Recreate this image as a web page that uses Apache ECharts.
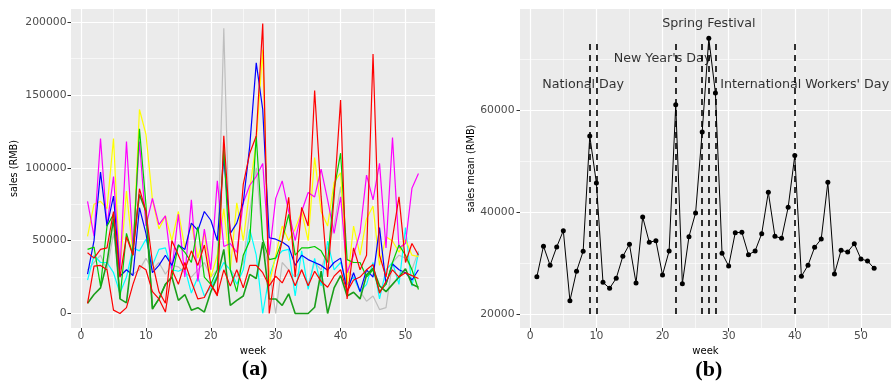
<!DOCTYPE html>
<html><head><meta charset="utf-8">
<script src="https://cdn.jsdelivr.net/npm/echarts@6/dist/echarts.min.js"></script>
<style>html,body{margin:0;padding:0;background:#fff}#c{width:894px;height:381px}</style>
</head><body><div id="c"></div>
<script>
const weeks = [1,2,3,4,5,6,7,8,9,10,11,12,13,14,15,16,17,18,19,20,21,22,23,24,25,26,27,28,29,30,31,32,33,34,35,36,37,38,39,40,41,42,43,44,45,46,47,48,49,50,51,52];

// panel (a): weekly sales per store
const gray = [30000,35000,40000,30000,55000,25000,30000,27000,30000,37800,30000,35000,27000,33000,32000,28000,25000,30000,35000,25000,30000,195700,30000,25000,35000,70000,100000,50000,30000,0,35000,30000,25000,30000,20000,35000,30000,45000,60000,87000,30000,25000,15000,8400,12000,2700,4000,35000,40000,38000,30000,42800];
const cyan = [22900,39800,35000,35000,28000,14000,25000,45000,43000,51000,33000,44000,45000,30000,29000,31000,14000,25000,12000,18000,26000,35000,30000,20000,30000,57700,40000,0,25600,38000,43000,44000,12000,43000,16500,37800,19000,49700,30000,35000,20000,25000,15000,20000,35000,10000,30000,35000,20000,58900,18800,41700];
const yellow = [53000,75000,77000,72000,120000,30000,84000,40000,140000,123000,78000,58000,67000,50000,70000,45000,62000,38000,55000,25000,40000,72000,30000,76000,50000,85000,118000,181000,20000,40000,60000,50000,58000,70000,50000,107000,70000,60000,90000,96600,20000,60000,40000,65000,73700,33000,52700,49700,42000,50800,40000,39000];
const magenta = [77000,53000,120000,60000,94000,30000,118000,45000,118000,60000,79000,61000,67000,30000,68000,25000,78000,22000,58000,30000,91000,46000,48000,42000,76000,88000,94000,103000,40000,79000,91000,70000,50000,70000,83000,80000,99000,78000,55000,80000,28000,40000,55600,95000,78000,103000,45000,120700,45000,48000,86000,96000];
const blue = [27000,50000,97000,60000,80600,25600,30000,26000,72600,55000,28000,33000,40000,33000,47000,44000,62000,57000,70000,64000,50000,107000,55000,62000,76000,115000,172000,140000,52000,51000,49000,46000,33000,40000,37000,35000,33000,29700,35000,38000,15000,28000,15000,30000,25000,58900,20000,34000,30000,28000,23000,30000];
const green = [44000,45500,18700,60000,68000,10300,55000,40000,126800,75000,3400,10000,20000,25000,47000,42000,35000,59500,25000,20000,30000,115000,30000,15000,40000,50000,121800,51000,37000,38000,50000,68000,40000,45000,45000,46000,43000,35000,85000,110000,37000,35000,35000,25000,30000,15000,20000,35000,47000,40000,30000,16500];
const darkgreen = [7000,13000,17600,35000,65000,10000,7300,45000,81700,70000,3000,10000,20000,25000,9000,13000,2300,4000,1000,15000,25000,44000,5500,9000,12000,26800,24000,49000,10000,10000,5500,13500,0,0,0,4300,29000,0,17600,26000,12000,14600,10000,26500,31000,19000,15000,20000,25000,30700,20000,18000];
const red2 = [6900,32500,33000,30000,2300,0,4000,20000,33000,30000,15000,10000,1000,30000,20000,35000,22000,10000,11000,20000,13000,30000,18800,30000,17600,33000,33000,28000,19000,25600,21000,30000,19000,30000,19000,29000,22000,18000,25600,30000,15000,23000,25000,30000,33600,14000,22000,30000,25000,28000,26000,24000];
const red1 = [41700,38000,44000,45000,70000,25000,52700,40000,85600,70000,35000,15000,7000,50000,40000,30000,43000,33000,47000,20000,12000,122000,55000,35000,88600,110000,121800,199000,0,30000,50000,79700,25000,72800,60000,153000,80000,25000,80000,146500,10000,45000,30000,40000,178000,40000,25000,52000,80000,35000,48000,40000];

// panel (b): weekly sales mean
const salesMean = [27300,33300,29550,33140,36340,22600,28370,32290,54900,45690,26200,25030,27000,31300,33660,26080,39020,34050,34380,27650,32350,61040,25950,35160,39800,55690,74060,63330,31900,29410,35950,36010,31630,32350,35750,43860,35230,34830,40910,51050,27380,29550,33070,34700,45810,27840,32480,32160,33790,30780,30390,28950];
const holidayWeeks = [9,10,22,26,27,28,40];
const holidayLineRange = [20000,73500];
const holidayNames = ['National Day',"New Year's Day",'Spring Festival',"International Workers' Day"];
const holidayLabelX = [8,20,27,41.5];
const holidayLabelY = [65000,70000,77000,65000];

// ticks
const xTicks = [0,10,20,30,40,50];
const xMinor = [5,15,25,35,45];
const aYTicks = [0,50000,100000,150000,200000];
const aYMinor = [25000,75000,125000,175000];
const bYTicks = [20000,40000,60000];
const bYMinor = [30000,50000,70000];

const aSeriesList = [
  {name:'s7', values: gray, color:'#BEBEBE', w:1.2},
  {name:'s5', values: cyan, color:'#00FFFF', w:1.2},
  {name:'s6', values: yellow, color:'#FFFF00', w:1.2},
  {name:'s4', values: magenta, color:'#FF00FF', w:1.2},
  {name:'s3', values: blue, color:'#0000FF', w:1.2},
  {name:'s2', values: green, color:'#00CC00', w:1.2},
  {name:'s8', values: darkgreen, color:'#1A9E1A', w:1.6},
  {name:'s9', values: red2, color:'#FF0000', w:1.2},
  {name:'s1', values: red1, color:'#FF0000', w:1.2}
];

const FONT = 'DejaVu Sans';
const plain = v => String(v);
function xAxis(gi, labelMargin){
  return {type:'value', gridIndex:gi, min:-1.55, max:54.55,
    axisLine:{show:false, onZero:false},
    axisTick:{show:true, length:3.5, customValues:xTicks, lineStyle:{color:'#333333', width:1}},
    axisLabel:{customValues:xTicks, formatter:plain, color:'#4D4D4D', fontSize:10.8, fontFamily:FONT, margin:labelMargin},
    splitLine:{show:false},
    name:'week', nameLocation:'middle', nameGap:12,
    nameTextStyle:{color:'#000', fontSize:10, fontFamily:FONT}};
}
function yAxis(gi, min, max, ticks, title, gap, margin){
  return {type:'value', gridIndex:gi, min:min, max:max,
    axisLine:{show:false, onZero:false},
    axisTick:{show:true, length:3.5, customValues:ticks, lineStyle:{color:'#333333', width:1}},
    axisLabel:{customValues:ticks, formatter:plain, color:'#4D4D4D', fontSize:10.8, fontFamily:FONT, margin:margin},
    splitLine:{show:false},
    name:title, nameLocation:'middle', nameGap:gap,
    nameTextStyle:{color:'#000', fontSize:9.7, fontFamily:FONT}};
}
function gridLines(gi, xMaj, xMin, yMaj, yMin){
  const d = [];
  xMin.forEach(v=>d.push({xAxis:v, lineStyle:{width:0.6}}));
  yMin.forEach(v=>d.push({yAxis:v, lineStyle:{width:0.6}}));
  xMaj.forEach(v=>d.push({xAxis:v, lineStyle:{width:1.2}}));
  yMaj.forEach(v=>d.push({yAxis:v, lineStyle:{width:1.2}}));
  return {type:'line', xAxisIndex:gi, yAxisIndex:gi, data:[], silent:true,
    markLine:{silent:true, z:1, symbol:['none','none'], label:{show:false},
      lineStyle:{color:'#FFFFFF', type:'solid'}, emphasis:{disabled:true}, data:d}};
}

const series = [];
series.push(gridLines(0, xTicks, xMinor, aYTicks, aYMinor));
series.push(gridLines(1, xTicks, xMinor, bYTicks, bYMinor));
aSeriesList.forEach(s=>{
  series.push({type:'line', name:s.name, xAxisIndex:0, yAxisIndex:0,
    data: weeks.map((w,i)=>[w, s.values[i]]), showSymbol:false, symbol:'none',
    lineStyle:{color:s.color, width:s.w}, itemStyle:{color:s.color}, silent:true});
});
series.push({type:'line', name:'mean', xAxisIndex:1, yAxisIndex:1,
  data: weeks.map((w,i)=>[w, salesMean[i]]), symbol:'circle', symbolSize:5, showSymbol:true,
  lineStyle:{color:'#000', width:1}, itemStyle:{color:'#000'}, silent:true,
  markLine:{silent:true, symbol:['none','none'], label:{show:false}, emphasis:{disabled:true},
    lineStyle:{color:'#000', type:[6,5], width:1.6},
    data: holidayWeeks.map(w=>[{coord:[w, holidayLineRange[0]]},{coord:[w, holidayLineRange[1]]}])}
});
series.push({type:'scatter', xAxisIndex:1, yAxisIndex:1, silent:true, z:6,
  data: holidayNames.map((n,i)=>[holidayLabelX[i], holidayLabelY[i], n]),
  symbolSize:1, itemStyle:{color:'rgba(0,0,0,0)'},
  label:{show:true, position:'inside', formatter:p=>p.data[2], color:'#000', fontSize:12.7, fontFamily:FONT}
});

const option = {
  animation:false,
  backgroundColor:'#FFFFFF',
  grid:[
    {left:71, top:9, width:364, height:319, show:true, backgroundColor:'#EBEBEB', borderWidth:0},
    {left:520, top:9, width:371, height:319, show:true, backgroundColor:'#EBEBEB', borderWidth:0}
  ],
  xAxis:[xAxis(0,3), xAxis(1,3)],
  yAxis:[yAxis(0,-9950,208950,aYTicks,'sales (RMB)',52,4.5), yAxis(1,17250,79800,bYTicks,'sales mean (RMB)',43,5.5)],
  graphic:[
    {type:'text', x:254.7, y:369, style:{text:'(a)', font:'bold 22px "Liberation Serif"', fill:'#000', align:'center', verticalAlign:'middle'}},
    {type:'text', x:708.8, y:370, style:{text:'(b)', font:'bold 22px "Liberation Serif"', fill:'#000', align:'center', verticalAlign:'middle'}}
  ],
  series: series
};
const chart = echarts.init(document.getElementById('c'), null, {renderer:'canvas'});
chart.setOption(option);
</script>
</body></html>
